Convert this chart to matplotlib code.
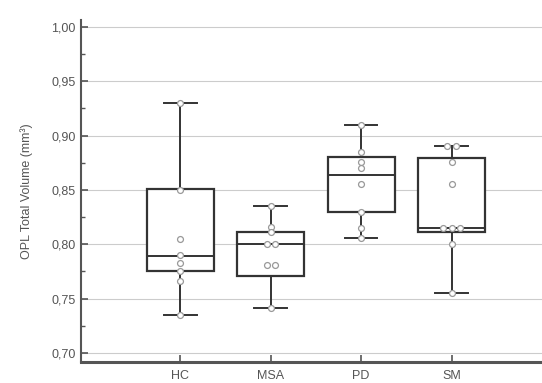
import numpy as np
import matplotlib.pyplot as plt
from matplotlib.ticker import FuncFormatter, MultipleLocator

plt.rcParams['font.family'] = ['Liberation Sans', 'DejaVu Sans']

# groups and the raw points
groups = ['HC', 'MSA', 'PD', 'SM']
hc = [0.930, 0.850, 0.805, 0.790, 0.783, 0.775, 0.766, 0.735]
msa = [0.835, 0.816, 0.811, 0.800, 0.800, 0.781, 0.781, 0.741]
pd_ = [0.910, 0.885, 0.876, 0.870, 0.855, 0.830, 0.815, 0.806]
sm = [0.890, 0.890, 0.876, 0.855, 0.815, 0.815, 0.815, 0.800, 0.755]

# box stats: whisker low, q1, median, q3, whisker high
stats_vals = [
    (0.735, 0.775, 0.789, 0.851, 0.930),
    (0.741, 0.771, 0.800, 0.811, 0.835),
    (0.806, 0.830, 0.864, 0.880, 0.910),
    (0.755, 0.811, 0.815, 0.879, 0.890),
]
points = [hc, msa, pd_, sm]

fig = plt.figure(figsize=(5.42, 3.83), dpi=100)
ax = fig.add_axes([0.149, 0.055, 0.851, 0.893])

dark = '#333333'
bxp = []
for lbl, (lo, q1, med, q3, hi) in zip(groups, stats_vals):
    bxp.append(dict(label=lbl, whislo=lo, q1=q1, med=med, q3=q3, whishi=hi, fliers=[]))

pos = np.arange(1, len(groups) + 1)
ax.bxp(bxp, positions=pos, widths=0.74, showfliers=False, patch_artist=True,
       boxprops=dict(facecolor='white', edgecolor=dark, linewidth=1.6),
       medianprops=dict(color=dark, linewidth=1.4),
       whiskerprops=dict(color=dark, linewidth=1.4),
       capprops=dict(color=dark, linewidth=1.4), capwidths=0.36, zorder=3)

# points, spread sideways when several share a value
for p, vals in zip(pos, points):
    vals = np.array(vals)
    xs = np.full(len(vals), float(p))
    for v in np.unique(vals):
        idx = np.where(vals == v)[0]
        n = len(idx)
        xs[idx] = p + (np.arange(n) - (n - 1) / 2) * 0.09
    ax.scatter(xs, vals, s=18, facecolor='white', edgecolor='#999999',
               linewidth=0.9, zorder=4)

ax.set_xlim(-0.1, 5.0)
ax.set_ylim(0.6917, 1.0064)
ax.set_xticks(pos)
ax.set_xticklabels(groups)
ax.yaxis.set_major_locator(MultipleLocator(0.05))
ax.yaxis.set_minor_locator(MultipleLocator(0.025))
ax.yaxis.set_major_formatter(FuncFormatter(lambda v, _: f'{v:.2f}'.replace('.', ',')))
ax.grid(axis='y', color='#cccccc', linewidth=0.8, zorder=0)
ax.set_axisbelow(True)

for s in ['top', 'right']:
    ax.spines[s].set_visible(False)
ax.spines['left'].set_color('#555555')
ax.spines['left'].set_linewidth(1.5)
ax.spines['bottom'].set_color('#555555')
ax.spines['bottom'].set_linewidth(2.2)
ax.tick_params(direction='in', colors='#555555', labelcolor='#555555', labelsize=9,
               length=5, width=1.2)
ax.tick_params(axis='y', which='minor', direction='in', length=3, width=1, colors='#555555')
ax.tick_params(axis='x', pad=6)

ax.set_ylabel('OPL Total Volume (mm³)', color='#555555', fontsize=9, labelpad=13)

fig.savefig('out.png', dpi=100)
